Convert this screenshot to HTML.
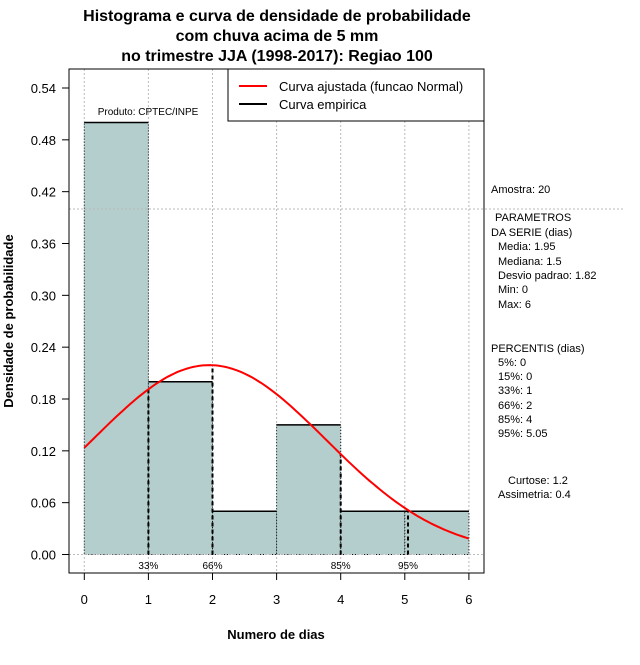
<!DOCTYPE html>
<html><head><meta charset="utf-8"><style>
body{margin:0;background:#fff}
svg text{font-family:"Liberation Sans",sans-serif}
</style></head><body>
<svg id="c" width="640" height="660" xmlns="http://www.w3.org/2000/svg">
<rect width="640" height="660" fill="#fff"/>
<g font-weight="bold" font-size="16" text-anchor="middle">
<text x="277" y="21">Histograma e curva de densidade de probabilidade</text>
<text x="277" y="41">com chuva acima de 5 mm</text>
<text x="277" y="61">no trimestre JJA (1998-2017): Regiao 100</text>
</g>
<g id="grid"></g>
<g id="bars"></g>
<g id="grid2"></g>
<g id="pct"></g>
<path id="curve" fill="none" stroke="#f00" stroke-width="2"/>
<rect x="69" y="69" width="415" height="504" fill="none" stroke="#000"/>
<g id="axes" font-size="13"></g>
<text x="148" y="115" font-size="10" text-anchor="middle">Produto: CPTEC/INPE</text>
<g>
<rect x="228" y="69" width="256" height="52" fill="#fff" stroke="#000"/>
<line x1="239" y1="86" x2="267" y2="86" stroke="#f00" stroke-width="2"/>
<line x1="239" y1="104" x2="267" y2="104" stroke="#000" stroke-width="2"/>
<text x="279" y="91" font-size="13">Curva ajustada (funcao Normal)</text>
<text x="279" y="109" font-size="13">Curva empirica</text>
</g>
<text x="276" y="639" font-size="13" font-weight="bold" text-anchor="middle">Numero de dias</text>
<text transform="translate(13,321) rotate(-90)" font-size="13" font-weight="bold" text-anchor="middle">Densidade de probabilidade</text>
<g font-size="11">
<text x="491" y="193">Amostra: 20</text>
<text x="495" y="221">PARAMETROS</text>
<text x="491" y="236">DA SERIE (dias)</text>
<text x="498" y="250">Media: 1.95</text>
<text x="498" y="265">Mediana: 1.5</text>
<text x="498" y="279">Desvio padrao: 1.82</text>
<text x="498" y="293">Min: 0</text>
<text x="498" y="308">Max: 6</text>
<text x="491" y="352">PERCENTIS (dias)</text>
<text x="498" y="366">5%: 0</text>
<text x="498" y="380">15%: 0</text>
<text x="498" y="394">33%: 1</text>
<text x="498" y="409">66%: 2</text>
<text x="498" y="423">85%: 4</text>
<text x="498" y="437">95%: 5.05</text>
<text x="508" y="484">Curtose: 1.2</text>
<text x="498" y="498">Assimetria: 0.4</text>
</g>
</svg>
<script>
const binEdges=[0,1,2,3,4,5,6];
const binDensity=[0.5,0.2,0.05,0.15,0.05,0.05];
const xTicks=[0,1,2,3,4,5,6];
const yTicks=[0,0.06,0.12,0.18,0.24,0.30,0.36,0.42,0.48,0.54];
const yTickLabels=["0.00","0.06","0.12","0.18","0.24","0.30","0.36","0.42","0.48","0.54"];
const hLines=[0,0.40];
const pctValues=[1,2,4,5.05];
const pctLabels=["33%","66%","85%","95%"];
const fitMean=[1.95];
const fitSd=[1.82];
const NS="http://www.w3.org/2000/svg";
const X=v=>84.3+v*64.1;
const Y=v=>554.5-v*(466.5/0.54);
function mk(tag,attrs,parent){const e=document.createElementNS(NS,tag);for(const k in attrs)e.setAttribute(k,attrs[k]);document.getElementById(parent).appendChild(e);return e;}
const dens=x=>Math.exp(-0.5*Math.pow((x-fitMean[0])/fitSd[0],2))/(fitSd[0]*Math.sqrt(2*Math.PI));
xTicks.forEach(t=>{
 const g=mk('line',{x1:X(t),x2:X(t),y1:69,y2:573,stroke:'#bbb','stroke-dasharray':'2,2'},'grid');
 
 const tk=mk('line',{x1:X(t),x2:X(t),y1:573,y2:580,stroke:'#000'},'axes');
 
 const tl=mk('text',{x:X(t),y:604,'text-anchor':'middle'},'axes');tl.textContent=t;
 
});
yTicks.forEach((t,i)=>{
 const tk=mk('line',{x1:62,x2:69,y1:Y(t),y2:Y(t),stroke:'#000'},'axes');
 
 const tl=mk('text',{x:56,y:Y(t)+5,'text-anchor':'end'},'axes');tl.textContent=yTickLabels[i];
 
});
hLines.forEach(h=>{
 const ref=mk('line',{x1:69,x2:h>0?625:484,y1:Y(h),y2:Y(h),stroke:'#bbb','stroke-dasharray':'2,2'},'grid2');
 
});
binDensity.forEach((d,i)=>{
 const x0=X(binEdges[i]),x1=X(binEdges[i+1]),y=Y(d);
 const r=mk('rect',{x:x0,y:y,width:x1-x0,height:Y(0)-y,fill:'#b4cdcd',stroke:'#000','stroke-dasharray':'1,2','stroke-width':1},'bars');
 
 const t=mk('line',{x1:x0,x2:x1,y1:y,y2:y,stroke:'#000','stroke-width':1.5},'bars');
 
});
pctValues.forEach((p,i)=>{
 const l=mk('line',{x1:X(p),x2:X(p),y1:Y(0),y2:Y(dens(p)),stroke:'#000','stroke-width':2,'stroke-dasharray':'4,3'},'pct');
 
 const t=mk('text',{x:X(p),y:569,'font-size':10,'text-anchor':'middle'},'pct');t.textContent=pctLabels[i];
 
});
let d='';
for(let k=0;k<=120;k++){const x=6*k/120;d+=(k?'L':'M')+X(x).toFixed(1)+','+Y(dens(x)).toFixed(1);}
document.getElementById('curve').setAttribute('d',d);
</script>
</body></html>
